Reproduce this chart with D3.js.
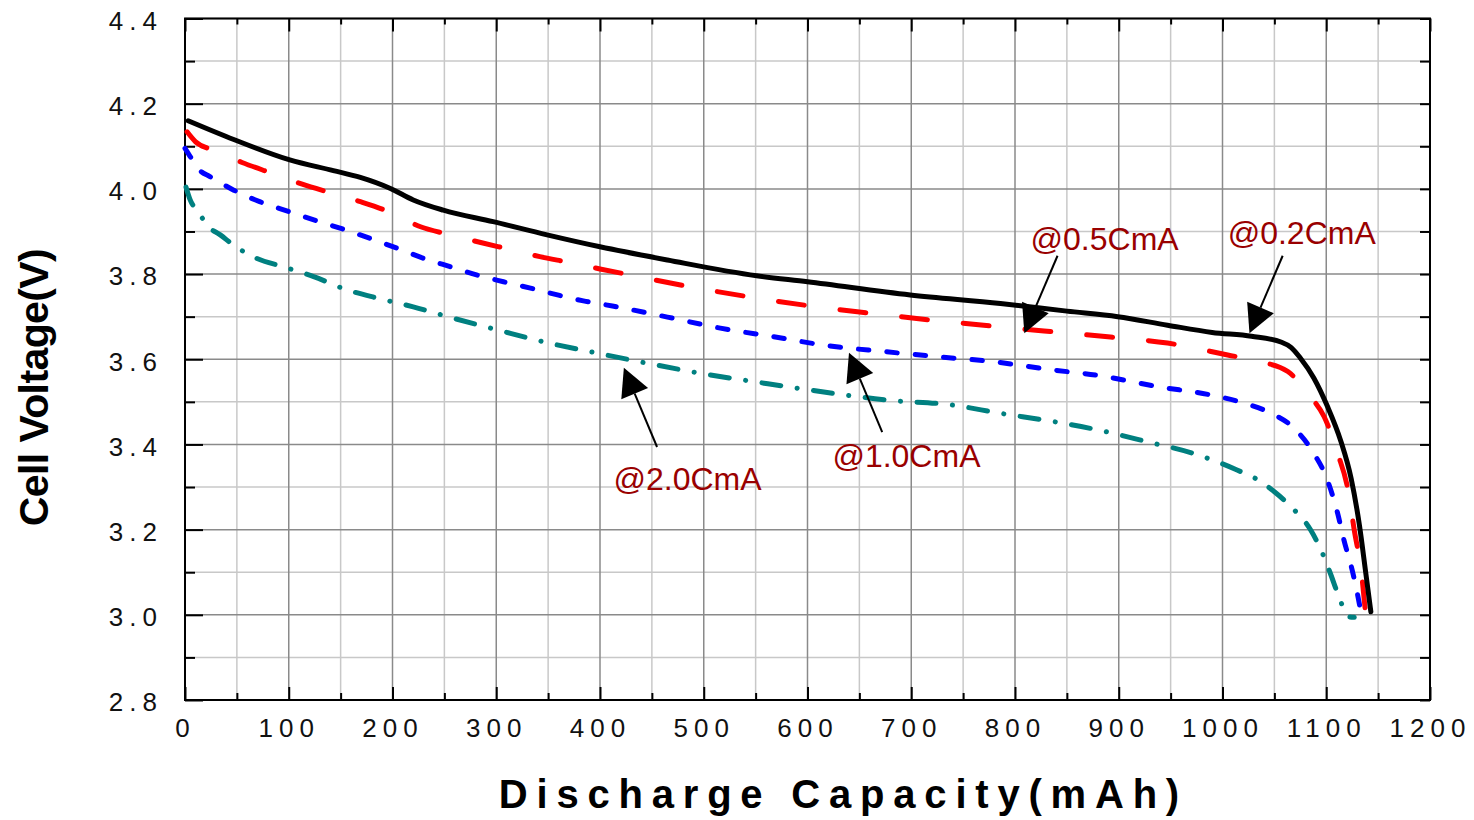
<!DOCTYPE html>
<html>
<head>
<meta charset="utf-8">
<script src="https://cdn.jsdelivr.net/npm/d3@7"></script>
<style>
  body { margin: 0; background: #fff; }
  svg { display: block; }
</style>
</head>
<body>
<div id="chart"></div>
<script>
// discharge curves at different rates
const cap02 = [3, 47, 101, 143, 169, 198, 220, 249, 297, 349, 400, 465, 551, 600, 699, 786, 850, 899, 947, 990, 1028, 1057, 1066, 1075, 1088, 1101, 1114, 1124, 1132, 1138, 1143];
const v02   = [4.160, 4.116, 4.068, 4.043, 4.027, 4.001, 3.974, 3.950, 3.923, 3.892, 3.864, 3.833, 3.796, 3.782, 3.751, 3.731, 3.713, 3.700, 3.680, 3.663, 3.654, 3.640, 3.628, 3.603, 3.556, 3.490, 3.408, 3.320, 3.210, 3.100, 3.007];

const cap05 = [2, 10, 24, 55, 82, 113, 140, 169, 198, 227, 256, 285, 313, 342, 371, 400, 429, 487, 545, 603, 661, 719, 777, 834, 892, 947, 1005, 1037, 1063, 1085, 1098, 1111, 1121, 1127, 1134, 1138];
const v05   = [4.134, 4.111, 4.093, 4.062, 4.038, 4.011, 3.991, 3.970, 3.945, 3.911, 3.892, 3.874, 3.858, 3.841, 3.827, 3.812, 3.798, 3.770, 3.746, 3.725, 3.708, 3.692, 3.678, 3.665, 3.652, 3.638, 3.610, 3.594, 3.571, 3.512, 3.465, 3.379, 3.293, 3.199, 3.097, 3.000];

const cap10 = [0, 5, 14, 24, 47, 72, 101, 127, 153, 178, 204, 230, 256, 281, 307, 333, 359, 384, 412, 465, 516, 567, 619, 674, 725, 780, 833, 883, 937, 989, 1021, 1047, 1069, 1088, 1101, 1111, 1117, 1125, 1130, 1135];
const v10   = [4.095, 4.076, 4.044, 4.029, 3.997, 3.970, 3.946, 3.925, 3.905, 3.884, 3.861, 3.837, 3.817, 3.798, 3.782, 3.767, 3.751, 3.737, 3.725, 3.699, 3.673, 3.653, 3.632, 3.618, 3.606, 3.594, 3.576, 3.561, 3.536, 3.516, 3.497, 3.473, 3.438, 3.379, 3.317, 3.238, 3.176, 3.105, 3.050, 2.984];

const cap20 = [1, 5, 13, 21, 34, 48, 69, 95, 124, 156, 188, 220, 259, 301, 349, 398, 449, 497, 555, 619, 677, 738, 786, 834, 880, 928, 973, 1014, 1034, 1050, 1066, 1085, 1095, 1104, 1111, 1116, 1121, 1127];
const v20   = [4.004, 3.974, 3.946, 3.915, 3.892, 3.866, 3.837, 3.817, 3.794, 3.763, 3.742, 3.723, 3.696, 3.669, 3.639, 3.614, 3.589, 3.567, 3.545, 3.522, 3.504, 3.493, 3.473, 3.455, 3.434, 3.406, 3.378, 3.340, 3.317, 3.289, 3.254, 3.199, 3.152, 3.097, 3.050, 3.019, 2.996, 2.994];

// annotation labels and arrows (data units)
const labels   = ["@0.2CmA", "@0.5CmA", "@1.0CmA", "@2.0CmA"];
const labelCap = [1005, 815, 624, 413];
const labelV   = [3.870, 3.856, 3.346, 3.293];
const tipCap   = [1026, 809, 640, 423];
const tipV     = [3.661, 3.661, 3.615, 3.580];
const tailCap  = [1058, 841, 672, 455];
const tailV    = [3.843, 3.843, 3.429, 3.394];

// tick labels
const xTicks = [0, 100, 200, 300, 400, 500, 600, 700, 800, 900, 1000, 1100, 1200];
const yTicks = [2.8, 3.0, 3.2, 3.4, 3.6, 3.8, 4.0, 4.2, 4.4];

const WIDTH = 1474, HEIGHT = 820;
const margin = {top: 18.5, right: 44, bottom: 120, left: 185};
const w = WIDTH - margin.left - margin.right;
const h = HEIGHT - margin.top - margin.bottom;

let svg = d3.select("#chart")
    .append("svg")
    .attr("width", WIDTH)
    .attr("height", HEIGHT)
    .append("g")
    .attr("transform", `translate(${margin.left},${margin.top})`);

let x = d3.scaleLinear().domain([0, 1200]).range([0, w]);
let y = d3.scaleLinear().domain([2.8, 4.4]).range([h, 0]);

let xMinor = d3.range(50, 1200, 100);
let yMinor = d3.range(2.9, 4.4, 0.2);

// grid
let grid = svg.append("g");
grid.selectAll("line.vmin").data(xMinor).enter().append("line")
    .attr("x1", d => x(d)).attr("x2", d => x(d)).attr("y1", 0).attr("y2", h)
    .style("stroke", "#c8c8c8").style("stroke-width", 1.5);
grid.selectAll("line.hmin").data(yMinor).enter().append("line")
    .attr("x1", 0).attr("x2", w).attr("y1", d => y(d)).attr("y2", d => y(d))
    .style("stroke", "#c8c8c8").style("stroke-width", 1.5);
grid.selectAll("line.vmaj").data(xTicks).enter().append("line")
    .attr("x1", d => x(d)).attr("x2", d => x(d)).attr("y1", 0).attr("y2", h)
    .style("stroke", "#8a8a8a").style("stroke-width", 1.5);
grid.selectAll("line.hmaj").data(yTicks).enter().append("line")
    .attr("x1", 0).attr("x2", w).attr("y1", d => y(d)).attr("y2", d => y(d))
    .style("stroke", "#8a8a8a").style("stroke-width", 1.5);

// axes (ticks inside)
function styleAxis(g) {
    g.select(".domain").remove();
    g.selectAll(".tick line").style("stroke", "#000").style("stroke-width", 2);
    g.selectAll("text")
        .style("font-family", "'Liberation Sans', Arial, sans-serif")
        .style("font-size", "26px")
        .style("letter-spacing", "6px")
        .style("fill", "#111");
}

svg.append("g").attr("transform", `translate(0,${h})`)
    .call(d3.axisBottom(x).tickValues(xTicks).tickSize(-13).tickPadding(19).tickFormat(d3.format("d")))
    .call(styleAxis);
svg.append("g").attr("transform", `translate(0,${h})`)
    .call(d3.axisBottom(x).tickValues(xMinor).tickSize(-7).tickFormat(""))
    .call(styleAxis);
svg.append("g")
    .call(d3.axisTop(x).tickValues(xTicks).tickSize(-13).tickFormat(""))
    .call(styleAxis);
svg.append("g")
    .call(d3.axisTop(x).tickValues(xMinor).tickSize(-6).tickFormat(""))
    .call(styleAxis);
svg.append("g")
    .call(d3.axisLeft(y).tickValues(yTicks).tickSize(-18).tickPadding(22).tickFormat(d3.format(".1f")))
    .call(styleAxis)
    .selectAll("text").attr("dy", "0.42em");
svg.append("g")
    .call(d3.axisLeft(y).tickValues(yMinor).tickSize(-10).tickFormat(""))
    .call(styleAxis);
svg.append("g").attr("transform", `translate(${w},0)`)
    .call(d3.axisRight(y).tickValues(yTicks.concat(yMinor)).tickSize(-10).tickFormat(""))
    .call(styleAxis);

svg.append("rect")
    .attr("width", w).attr("height", h)
    .style("fill", "none").style("stroke", "#000").style("stroke-width", 2);

// curves
const series = [
    {cap: cap20, v: v20, color: "#008080", dash: "19,16.5,0.1,16.5"},
    {cap: cap10, v: v10, color: "#0000ff", dash: "10.5,18"},
    {cap: cap05, v: v05, color: "#ff0000", dash: "26,36"},
    {cap: cap02, v: v02, color: "#000000", dash: null}
];

let line = d3.line()
    .x(d => x(d[0]))
    .y(d => y(d[1]))
    .curve(d3.curveMonotoneX);

svg.append("g").selectAll("path").data(series).enter()
    .append("path")
    .attr("d", s => line(s.cap.map((c, i) => [c, s.v[i]])))
    .style("fill", "none")
    .style("stroke", s => s.color)
    .style("stroke-width", 5)
    .style("stroke-linecap", "round")
    .style("stroke-linejoin", "round")
    .style("stroke-dasharray", s => s.dash);

// annotations
let ann = svg.append("g");
labels.forEach((lab, i) => {
    let tx = x(tipCap[i]), ty = y(tipV[i]);
    let sx = x(tailCap[i]), sy = y(tailV[i]);
    let len = Math.hypot(sx - tx, sy - ty);
    let ux = (sx - tx) / len, uy = (sy - ty) / len;
    let hl = 28, hw = 14.5;
    let bx = tx + ux * hl, by = ty + uy * hl;

    ann.append("line")
        .attr("x1", sx).attr("y1", sy).attr("x2", bx).attr("y2", by)
        .style("stroke", "#000").style("stroke-width", 2);
    ann.append("polygon")
        .attr("points", [[tx, ty], [bx - uy * hw, by + ux * hw], [bx + uy * hw, by - ux * hw]].map(p => p.join(",")).join(" "))
        .style("fill", "#000");
    ann.append("text")
        .attr("x", x(labelCap[i]))
        .attr("y", y(labelV[i]))
        .style("font-family", "'Liberation Sans', Arial, sans-serif")
        .style("font-size", "32px")
        .style("fill", "#990000")
        .text(lab);
});

// axis titles
svg.append("text")
    .attr("x", 839 - margin.left + 4.4)
    .attr("y", h + 108)
    .style("text-anchor", "middle")
    .style("font-family", "'Liberation Sans', Arial, sans-serif")
    .style("font-weight", "bold")
    .style("font-size", "40px")
    .style("letter-spacing", "8.8px")
    .text("Discharge Capacity(mAh)");

svg.append("text")
    .attr("transform", `translate(${48 - margin.left},${387.5 - margin.top}) rotate(-90)`)
    .style("text-anchor", "middle")
    .style("font-family", "'Liberation Sans', Arial, sans-serif")
    .style("font-weight", "bold")
    .style("font-size", "41px")
    .style("letter-spacing", "-0.6px")
    .text("Cell Voltage(V)");
</script>
</body>
</html>
